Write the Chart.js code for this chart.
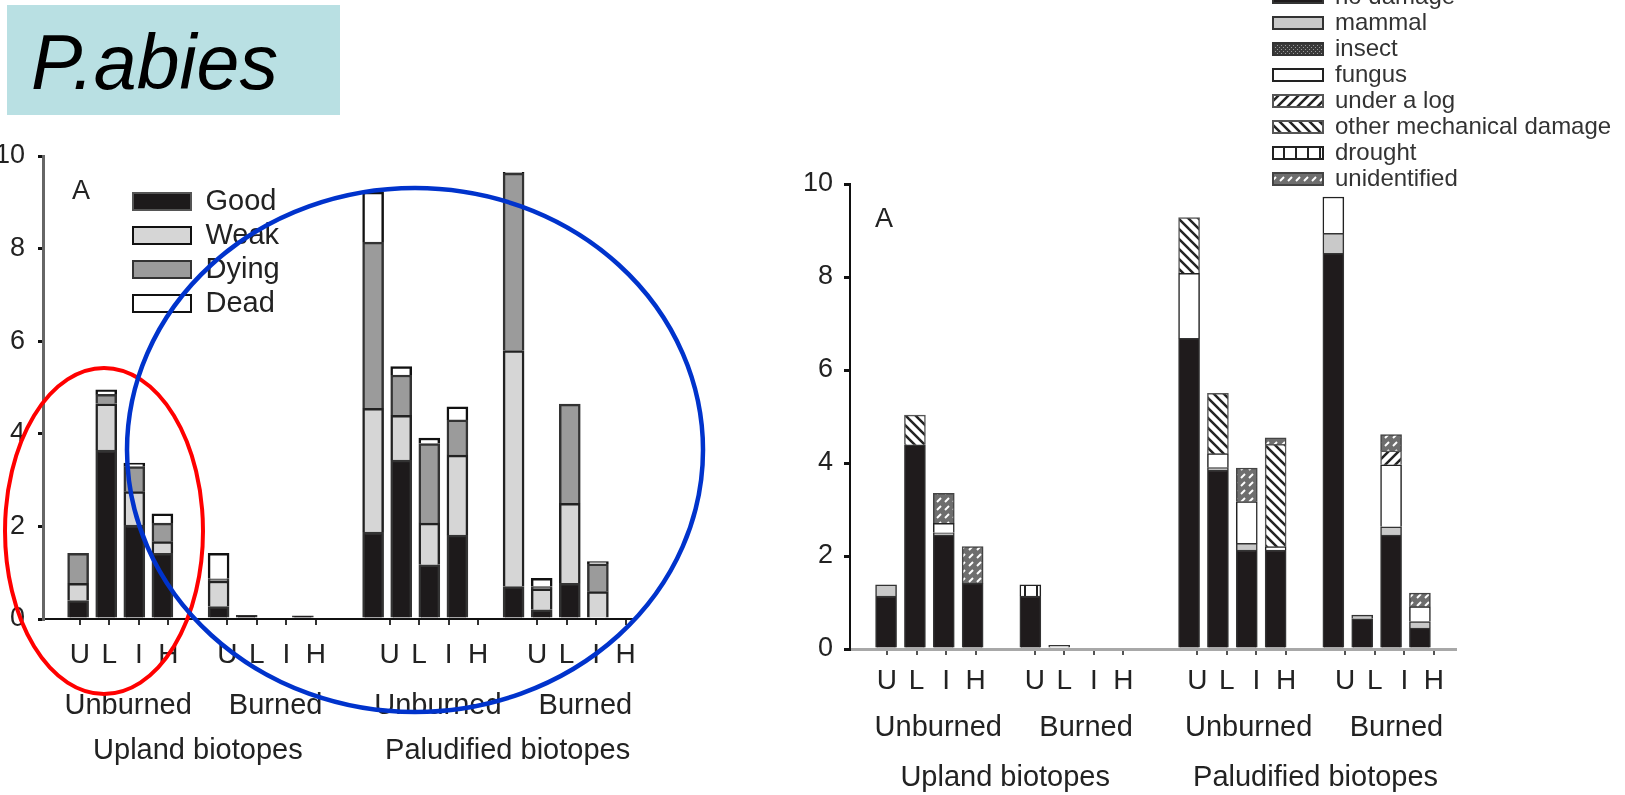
<!DOCTYPE html>
<html><head><meta charset="utf-8">
<script src="https://cdn.jsdelivr.net/npm/chart.js@4.4.1/dist/chart.umd.min.js"></script>
<style>
html,body{margin:0;padding:0;background:#fff;width:1625px;height:795px;overflow:hidden;position:relative;}
canvas{position:absolute;}
#overlay{position:absolute;left:0;top:0;pointer-events:none;}
</style></head>
<body>
<canvas id="left" width="680" height="795" style="left:0;top:0"></canvas>
<canvas id="right" width="740" height="795" style="left:760px;top:0"></canvas>
<canvas id="legL" width="440" height="160" style="left:128px;top:182px"></canvas>
<canvas id="legR" width="720" height="240" style="left:1271px;top:-17px"></canvas>
<svg id="overlay" width="1625" height="795" xmlns="http://www.w3.org/2000/svg">
  <rect x="7" y="5" width="333" height="110" fill="#b9e0e3"/>
  <text x="31" y="89" font-family="Liberation Sans, Arial, sans-serif" font-style="italic" font-size="77" fill="#000">P.abies</text>
  <ellipse cx="104" cy="531" rx="99" ry="163" fill="none" stroke="#ff0000" stroke-width="4"/>
  <ellipse cx="415" cy="450" rx="288" ry="262" fill="none" stroke="#0033cc" stroke-width="4.5"/>
</svg>
<script>
// ---------- categories ----------
const letters = ['U', 'L', 'I', 'H'];
const burnGroups = ['Unburned', 'Burned'];
const biotopes = ['Upland biotopes', 'Paludified biotopes'];
const panelLabel = 'A';

// ---------- left panel: tree condition (order: Upland Unburned U L I H, Upland Burned U L I H, Paludified Unburned U L I H, Paludified Burned U L I H) ----------
const conditionNames = ['Good', 'Weak', 'Dying', 'Dead'];
const good  = [0.40, 3.65, 2.03, 1.42, 0.27, 0.08, 0, 0.07, 1.88, 3.43, 1.17, 1.81, 0.70, 0.20, 0.77, 0];
const weak  = [0.37, 1.00, 0.72, 0.25, 0.55, 0, 0, 0, 2.67, 0.97, 0.90, 1.73, 5.10, 0.45, 1.73, 0.59];
const dying = [0.65, 0.20, 0.54, 0.40, 0.05, 0, 0, 0, 3.59, 0.87, 1.72, 0.76, 3.83, 0.05, 2.14, 0.60];
const dead  = [0, 0.10, 0.08, 0.20, 0.55, 0, 0, 0, 1.08, 0.18, 0.12, 0.28, 0.02, 0.18, 0, 0.05];

// ---------- right panel: damage type ----------
const damageNames = ['no damage', 'mammal', 'insect', 'fungus', 'under a log', 'other mechanical damage', 'drought', 'unidentified'];
const noDamage     = [1.14, 4.39, 2.45, 1.41, 1.14, 0, 0, 0, 6.68, 3.85, 2.13, 2.13, 8.51, 0.65, 2.45, 0.45];
const mammal       = [0.24, 0, 0.05, 0, 0, 0.08, 0, 0, 0, 0.05, 0.14, 0, 0.43, 0.08, 0.18, 0.14];
const insect       = [0, 0, 0, 0, 0, 0, 0, 0, 0, 0, 0, 0, 0, 0, 0, 0];
const fungus       = [0, 0, 0.20, 0, 0, 0, 0, 0, 1.40, 0.30, 0.90, 0.07, 0.78, 0, 1.33, 0.32];
const underLog     = [0, 0, 0, 0, 0, 0, 0, 0, 0, 0, 0, 0, 0, 0, 0.30, 0];
const otherMech    = [0, 0.64, 0, 0, 0, 0, 0, 0, 1.20, 1.30, 0, 2.20, 0, 0, 0, 0];
const drought      = [0, 0, 0, 0, 0.24, 0, 0, 0, 0, 0, 0, 0, 0, 0, 0, 0];
const unidentified = [0, 0, 0.65, 0.79, 0, 0, 0, 0, 0, 0, 0.72, 0.14, 0, 0, 0.35, 0.29];

const FAMILY = "'Liberation Sans', Arial, sans-serif";

// ---------- slot layout (half-bar units) ----------
function buildSlots(lead, trail) {
  const letterRow = [], groupRow = [], bioRow = [], barIndex = [];
  const push = (l) => { letterRow.push(l); groupRow.push(''); bioRow.push(''); };
  for (let i = 0; i < lead; i++) push('');
  biotopes.forEach((bio, bi) => {
    if (bi > 0) for (let k = 0; k < 4; k++) push('');
    const bioStart = letterRow.length;
    burnGroups.forEach((grp, gi) => {
      if (gi > 0) for (let k = 0; k < 3; k++) push('');
      const grpStart = letterRow.length;
      letters.forEach((L, li) => {
        if (li > 0) push('');
        barIndex.push(letterRow.length);
        push(L);
      });
      groupRow[(grpStart + letterRow.length - 1) / 2] = grp;
    });
    bioRow[(bioStart + letterRow.length - 1) / 2] = bio;
  });
  for (let i = 0; i < trail; i++) push('');
  return { letterRow, groupRow, bioRow, barIndex };
}
function spread(values, slots) {
  const arr = new Array(slots.letterRow.length).fill(null);
  slots.barIndex.forEach((s, i) => { arr[s] = values[i]; });
  return arr;
}

// ---------- patterns ----------
function pattern(size, draw) {
  const c = document.createElement('canvas');
  c.width = size; c.height = size;
  const g = c.getContext('2d');
  draw(g, size);
  return c.getContext('2d').createPattern(c, 'repeat');
}
const patInsect = pattern(4, (g) => {
  g.fillStyle = '#3a3a3a'; g.fillRect(0, 0, 4, 4);
  g.fillStyle = '#9a9a9a'; g.fillRect(0, 0, 1, 1); g.fillRect(2, 2, 1, 1);
});
const patSlash = pattern(10, (g, s) => {
  g.fillStyle = '#fff'; g.fillRect(0, 0, s, s);
  g.strokeStyle = '#222'; g.lineWidth = 2.5;
  [[0, s, s, 0], [-s / 2, s / 2, s / 2, -s / 2], [s / 2, s * 1.5, s * 1.5, s / 2]].forEach(([a, b, c, d]) => {
    g.beginPath(); g.moveTo(a, b); g.lineTo(c, d); g.stroke();
  });
});
const patBack = pattern(10, (g, s) => {
  g.fillStyle = '#fff'; g.fillRect(0, 0, s, s);
  g.strokeStyle = '#222'; g.lineWidth = 2.5;
  [[0, 0, s, s], [-s / 2, s / 2, s / 2, s * 1.5], [s / 2, -s / 2, s * 1.5, s / 2]].forEach(([a, b, c, d]) => {
    g.beginPath(); g.moveTo(a, b); g.lineTo(c, d); g.stroke();
  });
});
const patDrought = pattern(12, (g, s) => {
  g.fillStyle = '#fff'; g.fillRect(0, 0, s, s);
  g.fillStyle = '#222'; g.fillRect(0, 0, 2, s);
});
const patUnid = pattern(8, (g, s) => {
  g.fillStyle = '#6e6e6e'; g.fillRect(0, 0, s, s);
  g.strokeStyle = '#fff'; g.lineWidth = 2;
  g.beginPath(); g.moveTo(1, 6); g.lineTo(5, 2); g.stroke();
});

// ---------- plugin drawing the panel letter ----------
const panelLetter = {
  id: 'panelLetter',
  afterDraw(chart, args, o) {
    const { ctx, chartArea } = chart;
    ctx.save();
    ctx.font = o.size + 'px ' + FAMILY;
    ctx.fillStyle = o.color;
    ctx.textAlign = 'center';
    ctx.textBaseline = 'middle';
    ctx.fillText(o.text, chartArea.left + o.dx, chartArea.top + o.dy);
    ctx.restore();
  }
};

function xAxes(barSlots, labSlots, g) {
  const tickColor = (c) => (c.tick && c.tick.label) ? g.tickColor : 'rgba(0,0,0,0)';
  const labelFont = (size) => ({ family: FAMILY, size: size, lineHeight: 1 });
  const common = { type: 'category', axis: 'x', position: 'bottom', offset: true };
  return {
    x: Object.assign({}, common, {
      stacked: true, weight: 0,
      ticks: { display: false, autoSkip: false },
      grid: { display: true, drawOnChartArea: false, drawTicks: false },
      border: { display: true, color: g.axisColor, width: g.axisWidth },
      afterFit: (s) => { s.height = 0; }
    }),
    xl: Object.assign({}, common, {
      weight: 1, labels: labSlots.letterRow,
      grid: { display: true, offset: false, drawOnChartArea: false, drawTicks: true, tickLength: 6, lineWidth: 2, color: tickColor },
      border: { display: false },
      ticks: { autoSkip: false, maxRotation: 0, minRotation: 0, padding: g.letterPad, color: '#222', font: labelFont(28) },
      afterFit: (s) => { s.height = g.h1; }
    }),
    xg: Object.assign({}, common, {
      weight: 2, labels: labSlots.groupRow,
      grid: { display: false, drawTicks: false },
      border: { display: false },
      ticks: { autoSkip: false, maxRotation: 0, minRotation: 0, padding: g.groupPad, labelOffset: g.groupOffset, color: '#222', font: labelFont(29) },
      afterFit: (s) => { s.height = g.h2; }
    }),
    xb: Object.assign({}, common, {
      weight: 3, labels: labSlots.bioRow,
      grid: { display: false, drawTicks: false },
      border: { display: false },
      ticks: { autoSkip: false, maxRotation: 0, minRotation: 0, padding: g.bioPad, color: '#222', font: labelFont(29) },
      afterFit: (s) => { s.height = g.h3; }
    })
  };
}
function yAxis(g) {
  return {
    type: 'linear', stacked: true, min: 0, max: 10, position: 'left',
    ticks: { stepSize: 2, padding: g.yPad, color: '#222', font: { family: FAMILY, size: 27 } },
    grid: { drawOnChartArea: false, drawTicks: true, tickLength: g.yTick, lineWidth: 3, color: '#111' },
    border: { display: true, color: g.yAxisColor, width: g.yAxisWidth },
    afterFit: (s) => { s.width = g.yWidth; }
  };
}

// ---------- left chart ----------
const LbarSlots = buildSlots(2, 2);
const LlabSlots = buildSlots(2, 0);
const leftStyles = [
  { bg: '#1d1a1b', border: '#333' },
  { bg: '#d6d6d6', border: '#222' },
  { bg: '#9b9b9b', border: '#333' },
  { bg: '#ffffff', border: '#111' }
];
const leftSeries = [good, weak, dying, dead];
const leftDatasets = leftSeries.map((vals, i) => ({
  label: conditionNames[i],
  data: spread(vals, LbarSlots),
  backgroundColor: leftStyles[i].bg,
  borderColor: leftStyles[i].border,
  borderWidth: 2.5,
  barThickness: 21,
  xAxisID: 'x', yAxisID: 'y'
}));

new Chart(document.getElementById('left'), {
  type: 'bar',
  data: { labels: LbarSlots.letterRow, datasets: leftDatasets },
  options: {
    responsive: false, animation: false, devicePixelRatio: 1,
    layout: { padding: { left: 0, top: 156, right: 47, bottom: 22 } },
    plugins: { legend: { display: false }, tooltip: { enabled: false },
      panelLetter: { text: panelLabel, dx: 38, dy: 36, size: 27, color: '#222' } },
    scales: Object.assign(xAxes(LbarSlots, LlabSlots, {
      axisColor: '#111', axisWidth: 2, tickColor: '#333',
      letterPad: 16, groupPad: 10, groupOffset: 4, bioPad: 11, h1: 62, h2: 44, h3: 48
    }), { y: yAxis({ yPad: 13, yTick: 5, yAxisColor: '#666', yAxisWidth: 3, yWidth: 43 }) })
  },
  plugins: [panelLetter]
});

// ---------- right chart ----------
const RbarSlots = buildSlots(2, 2);
const RlabSlots = buildSlots(2, 1);
const rightStyles = [
  { bg: '#1f1b1c', border: '#333' },
  { bg: '#c9c9c9', border: '#333' },
  { bg: patInsect, border: '#333' },
  { bg: '#ffffff', border: '#222' },
  { bg: patSlash, border: '#555' },
  { bg: patBack, border: '#555' },
  { bg: patDrought, border: '#222' },
  { bg: patUnid, border: '#444' }
];
const rightSeries = [noDamage, mammal, insect, fungus, underLog, otherMech, drought, unidentified];
const rightDatasets = rightSeries.map((vals, i) => ({
  label: damageNames[i],
  data: spread(vals, RbarSlots),
  backgroundColor: rightStyles[i].bg,
  borderColor: rightStyles[i].border,
  borderWidth: 1.5,
  barThickness: 21,
  xAxisID: 'x', yAxisID: 'y'
}));

new Chart(document.getElementById('right'), {
  type: 'bar',
  data: { labels: RbarSlots.letterRow, datasets: rightDatasets },
  options: {
    responsive: false, animation: false, devicePixelRatio: 1,
    layout: { padding: { left: 0, top: 184, right: 44, bottom: 0 } },
    plugins: { legend: { display: false }, tooltip: { enabled: false },
      panelLetter: { text: panelLabel, dx: 34, dy: 36, size: 27, color: '#222' } },
    scales: Object.assign(xAxes(RbarSlots, RlabSlots, {
      axisColor: '#a8a8a8', axisWidth: 3, tickColor: '#555',
      letterPad: 12, groupPad: 9, groupOffset: 7, bioPad: 11, h1: 55, h2: 48, h3: 43
    }), { y: yAxis({ yPad: 11, yTick: 6, yAxisColor: '#111', yAxisWidth: 2, yWidth: 90 }) })
  },
  plugins: [panelLetter]
});

// ---------- legends (Chart.js legends on their own canvases) ----------
function legendChart(id, datasets, lab) {
  new Chart(document.getElementById(id), {
    type: 'bar',
    data: { labels: [], datasets: datasets.map(d => ({
      label: d.label, data: [], backgroundColor: d.backgroundColor, borderColor: d.borderColor, borderWidth: 2
    })) },
    options: {
      responsive: false, animation: false, devicePixelRatio: 1,
      layout: { padding: 0 },
      scales: { x: { display: false }, y: { display: false } },
      plugins: { tooltip: { enabled: false },
        legend: { position: 'left', align: 'start', maxWidth: 400, labels: lab } }
    }
  });
}
legendChart('legL', leftDatasets.map((d, i) => Object.assign({}, d, { borderColor: ['#555', '#111', '#333', '#111'][i] })),
  { boxWidth: 58, boxHeight: 17, padding: 5, color: '#222', font: { family: FAMILY, size: 29 } });
legendChart('legR', rightDatasets,
  { boxWidth: 50, boxHeight: 12, padding: 2, color: '#333', font: { family: FAMILY, size: 24 } });
</script>
</body></html>
